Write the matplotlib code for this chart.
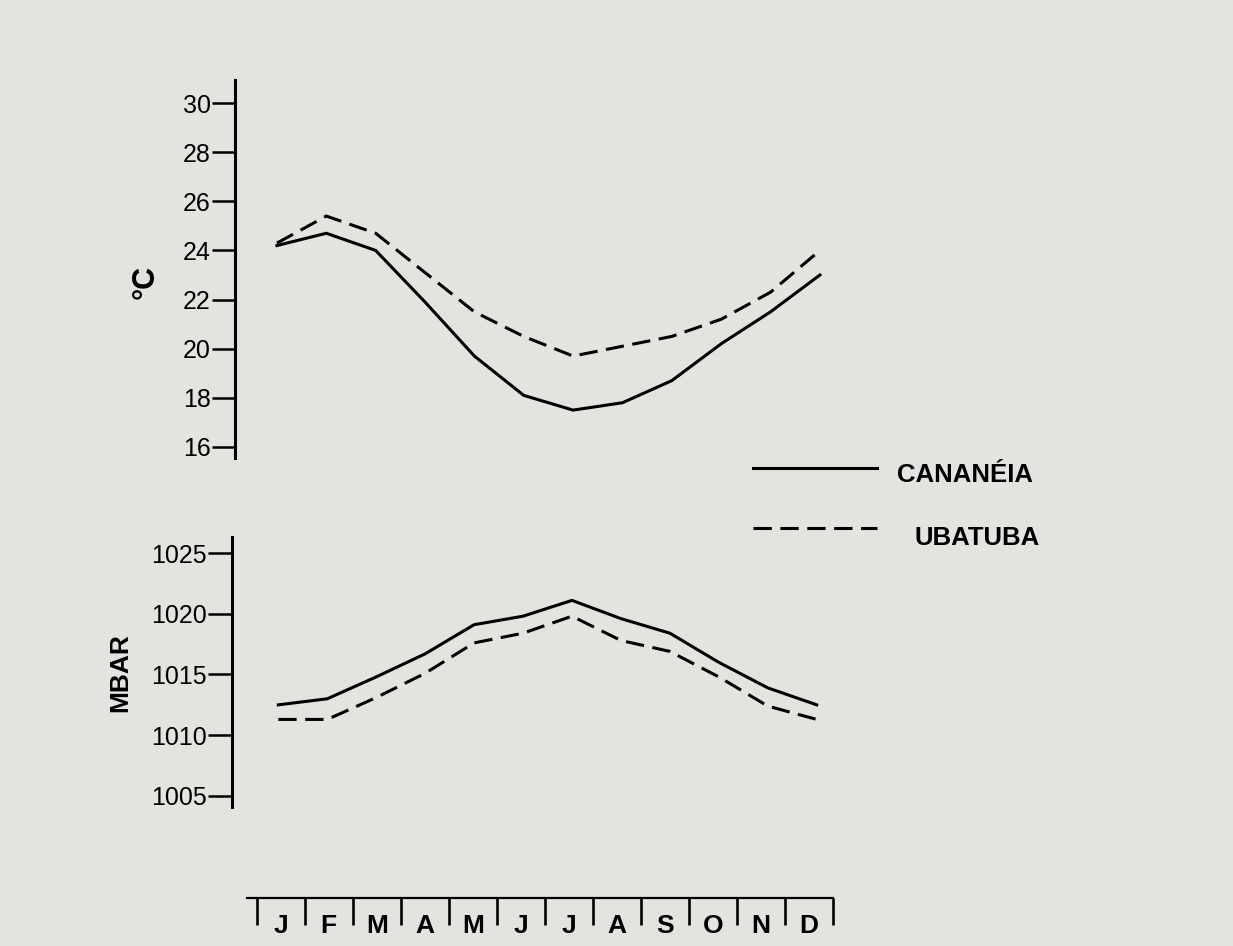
import matplotlib
matplotlib.use("Agg")
import matplotlib.pyplot as plt
from matplotlib.lines import Line2D

# ---------------- data ----------------
months = ["J", "F", "M", "A", "M", "J", "J", "A", "S", "O", "N", "D"]
temp_cananeia = [24.2, 24.7, 24.0, 21.9, 19.7, 18.1, 17.5, 17.8, 18.7, 20.2, 21.5, 23.0]
temp_ubatuba = [24.3, 25.4, 24.7, 23.1, 21.5, 20.5, 19.7, 20.1, 20.5, 21.2, 22.3, 24.0]
pres_cananeia = [1012.5, 1013.0, 1014.8, 1016.7, 1019.1, 1019.8, 1021.1, 1019.6, 1018.4, 1016.0, 1013.9, 1012.5]
pres_ubatuba = [1011.3, 1011.3, 1013.1, 1015.1, 1017.6, 1018.4, 1019.8, 1017.8, 1016.9, 1014.8, 1012.4, 1011.3]
temp_ticks = [16, 18, 20, 22, 24, 26, 28, 30]
pres_ticks = [1005, 1010, 1015, 1020, 1025]
series_names = ["CANANÉIA", "UBATUBA"]

# ---------------- figure ----------------
W, H = 1233, 946
BG = "#e3e3e0"
fig = plt.figure(figsize=(W / 100, H / 100), dpi=100, facecolor=BG)
plt.rcParams["font.family"] = ["Liberation Sans", "DejaVu Sans"]


def rect(l, t, r, b):
    return [l / W, 1 - b / H, (r - l) / W, (b - t) / H]


def px(x, y):
    return x / W, 1 - y / H


LW = 2.2
DASH = (6, 2.8)
idx = list(range(12))


def style_axis(ax):
    ax.set_facecolor("none")
    for s in ["top", "right", "bottom"]:
        ax.spines[s].set_visible(False)
    ax.spines["left"].set_linewidth(2.2)
    ax.set_xticks([])
    ax.tick_params(axis="y", direction="out", length=16.5, width=1.8,
                   pad=1.0, labelsize=18)


# Temperature axes
ax1 = fig.add_axes(rect(235, 80, 850, 458))
style_axis(ax1)
ax1.plot(idx, temp_cananeia, color="black", lw=LW, solid_joinstyle="miter")
l2, = ax1.plot(idx, temp_ubatuba, color="black", lw=LW, linestyle="--")
l2.set_dashes(DASH)
ax1.set_xlim(-0.85, 11.61)
ax1.set_ylim(15.55, 30.94)
ax1.set_yticks(temp_ticks)

# Pressure axes
ax2 = fig.add_axes(rect(232, 537, 850, 807))
style_axis(ax2)
ax2.tick_params(axis="y", length=17)
ax2.plot(idx, pres_cananeia, color="black", lw=LW)
l4, = ax2.plot(idx, pres_ubatuba, color="black", lw=LW, linestyle="--")
l4.set_dashes(DASH)
ax2.set_xlim(-0.946, 11.68)
ax2.set_ylim(1004.09, 1026.32)
ax2.set_yticks(pres_ticks)

# Month axis
ax3 = fig.add_axes(rect(246.7, 898, 832.7, 940))
ax3.set_facecolor("none")
for s in ["left", "right", "bottom"]:
    ax3.spines[s].set_visible(False)
ax3.spines["top"].set_linewidth(1.6)
ax3.set_xlim(-10 / 48, 12)
ax3.set_ylim(0, 1)
ax3.set_yticks([])
ax3.xaxis.set_ticks_position("top")
ax3.set_xticks(range(13))
ax3.tick_params(axis="x", direction="in", length=19.5, width=1.9,
                labeltop=False, labelbottom=False)
for i, m in enumerate(months):
    ax3.text(i + 0.5, 0.33, m, ha="center", va="center", fontsize=19,
             fontweight="bold", transform=ax3.transData)

# Axis titles
fig.text(*px(146, 282), "°C", rotation=90, ha="center", va="center",
         fontsize=22, fontweight="bold")
fig.text(*px(120, 673), "MBAR", rotation=90, ha="center", va="center",
         fontsize=19, fontweight="bold")

# Legend
x0, y0 = px(753, 468)
x1, _ = px(877, 468)
fig.add_artist(Line2D([x0, x1], [y0, y0], color="black", lw=LW,
                      transform=fig.transFigure))
_, y1 = px(753, 528)
ld = Line2D([x0, x1], [y1, y1], color="black", lw=LW, linestyle="--",
            transform=fig.transFigure)
ld.set_dashes(DASH)
fig.add_artist(ld)
fig.text(*px(897, 475), series_names[0], ha="left", va="center",
         fontsize=18.5, fontweight="bold")
fig.text(*px(915, 538), series_names[1], ha="left", va="center",
         fontsize=18.5, fontweight="bold")

fig.savefig("out.png", dpi=100, facecolor=BG)
